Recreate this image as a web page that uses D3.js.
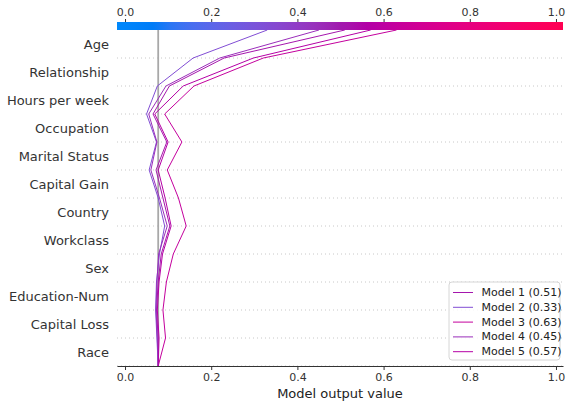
<!DOCTYPE html>
<html>
<head>
<meta charset="utf-8">
<script src="https://cdn.jsdelivr.net/npm/d3@7"></script>
<style>
  body { margin: 0; background: #fff; }
  text { font-family: "DejaVu Sans", sans-serif; }
</style>
</head>
<body>
<div id="chart"></div>
<script>
// features, top to bottom as shown on the y axis
const features = ['Age', 'Relationship', 'Hours per week', 'Occupation', 'Marital Status',
  'Capital Gain', 'Country', 'Workclass', 'Sex', 'Education-Num', 'Capital Loss', 'Race'];

const modelNames = ['Model 1', 'Model 2', 'Model 3', 'Model 4', 'Model 5'];
const baseValue = 0.077;

// cumulative model output, from the base value (bottom) up to the final output (top)
const model1 = [0.077, 0.077, 0.073, 0.077, 0.084, 0.104, 0.088, 0.072, 0.097, 0.065, 0.103, 0.230, 0.51];
const model2 = [0.077, 0.074, 0.071, 0.073, 0.080, 0.092, 0.077, 0.056, 0.073, 0.050, 0.075, 0.158, 0.33];
const model3 = [0.077, 0.094, 0.088, 0.096, 0.112, 0.142, 0.124, 0.098, 0.132, 0.092, 0.160, 0.321, 0.63];
const model4 = [0.077, 0.075, 0.072, 0.074, 0.078, 0.098, 0.080, 0.060, 0.074, 0.055, 0.095, 0.220, 0.45];
const model5 = [0.077, 0.079, 0.075, 0.079, 0.087, 0.107, 0.093, 0.077, 0.100, 0.069, 0.135, 0.298, 0.57];

const xTicks = [0.0, 0.2, 0.4, 0.6, 0.8, 1.0];
const xLimits = [-0.0186, 1.0163];

const series = [model1, model2, model3, model4, model5];

const width = 570;
const height = 407;
const margin = { top: 30, right: 7, bottom: 41, left: 117 };

// shap red_blue colour map (interpolated in LCh)
function redBlue(t) {
  const l = t < 0.5 ? 54 - 28 * t : 40 + 28 * (t - 0.5);
  const c = 70 + 20 * t;
  const h = 266.93 + 113.39 * t;
  return d3.hcl(h, c, l).formatHex();
}

const svg = d3.select('#chart')
  .append('svg')
  .attr('width', width)
  .attr('height', height);

svg.append('rect')
  .attr('width', width)
  .attr('height', height)
  .attr('fill', '#fff');

const x = d3.scaleLinear()
  .domain(xLimits)
  .range([margin.left, width - margin.right]);

const y = d3.scaleLinear()
  .domain([0, features.length])
  .range([height - margin.bottom, margin.top]);

const colorOf = (v) => redBlue((v - xLimits[0]) / (xLimits[1] - xLimits[0]));

// dotted horizontal guides
svg.append('g')
  .selectAll('line')
  .data(d3.range(features.length))
  .join('line')
  .attr('x1', x.range()[0])
  .attr('x2', x.range()[1])
  .attr('y1', (d) => y(d))
  .attr('y2', (d) => y(d))
  .attr('stroke', '#c8c8c8')
  .attr('stroke-width', 1)
  .attr('stroke-dasharray', '1,3');

// base value line
svg.append('line')
  .attr('x1', x(baseValue))
  .attr('x2', x(baseValue))
  .attr('y1', y(0))
  .attr('y2', y(features.length))
  .attr('stroke', '#a8a8a8')
  .attr('stroke-width', 1.8);

// feature labels
svg.append('g')
  .selectAll('text')
  .data(features)
  .join('text')
  .attr('x', 109)
  .attr('y', (d, i) => y(features.length - i - 0.5))
  .attr('text-anchor', 'end')
  .attr('dominant-baseline', 'central')
  .attr('font-size', 13)
  .attr('fill', '#333')
  .text((d) => d);

// decision lines
const line = d3.line()
  .x((d) => x(d))
  .y((d, i) => y(i));

svg.append('g')
  .selectAll('path')
  .data(series)
  .join('path')
  .attr('d', line)
  .attr('fill', 'none')
  .attr('stroke', (d) => colorOf(d[d.length - 1]))
  .attr('stroke-width', 1);

// colour bar on top
const grad = svg.append('defs')
  .append('linearGradient')
  .attr('id', 'cbar');
grad.selectAll('stop')
  .data(d3.range(0, 51))
  .join('stop')
  .attr('offset', (d) => `${d * 2}%`)
  .attr('stop-color', (d) => redBlue(d / 50));

svg.append('rect')
  .attr('x', x.range()[0])
  .attr('y', 22)
  .attr('width', x.range()[1] - x.range()[0])
  .attr('height', 8)
  .attr('fill', 'url(#cbar)');

const topAxis = svg.append('g')
  .attr('transform', 'translate(0,22)')
  .call(d3.axisTop(x).tickValues(xTicks).tickFormat(d3.format('.1f')).tickSize(3).tickPadding(3));
topAxis.select('.domain').remove();
topAxis.selectAll('line').attr('stroke', '#333');
topAxis.selectAll('text')
  .attr('font-size', 11)
  .attr('fill', '#333')
  .style('font-family', '"DejaVu Sans", sans-serif');

// bottom axis
const bottomAxis = svg.append('g')
  .attr('transform', `translate(0,${y(0)})`)
  .call(d3.axisBottom(x).tickValues(xTicks).tickFormat(d3.format('.1f')).tickSize(4).tickSizeOuter(0).tickPadding(3));
bottomAxis.select('.domain').attr('stroke', '#333');
bottomAxis.selectAll('line').attr('stroke', '#333');
bottomAxis.selectAll('text')
  .attr('font-size', 11)
  .attr('fill', '#333')
  .style('font-family', '"DejaVu Sans", sans-serif');

svg.append('text')
  .attr('x', (x.range()[0] + x.range()[1]) / 2)
  .attr('y', 398)
  .attr('text-anchor', 'middle')
  .attr('font-size', 13)
  .attr('fill', '#222')
  .text('Model output value');

// legend
const legend = svg.append('g')
  .attr('transform', 'translate(449,282)');

legend.append('rect')
  .attr('width', 111)
  .attr('height', 78)
  .attr('rx', 3)
  .attr('fill', '#fff')
  .attr('fill-opacity', 0.8)
  .attr('stroke', '#d6d6d6');

const entry = legend.selectAll('g.entry')
  .data(modelNames)
  .join('g')
  .attr('class', 'entry')
  .attr('transform', (d, i) => `translate(0,${10.5 + i * 14.8})`);

entry.append('line')
  .attr('x1', 4)
  .attr('x2', 24)
  .attr('stroke', (d, i) => colorOf(series[i][series[i].length - 1]))
  .attr('stroke-width', 1);

entry.append('text')
  .attr('x', 32.5)
  .attr('dominant-baseline', 'central')
  .attr('font-size', 11)
  .attr('fill', '#222')
  .text((d, i) => `${d} (${series[i][series[i].length - 1].toFixed(2)})`);
</script>
</body>
</html>
